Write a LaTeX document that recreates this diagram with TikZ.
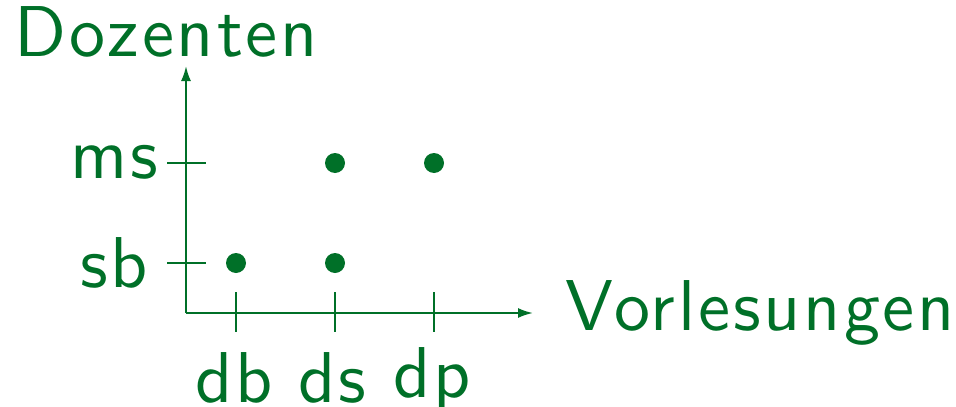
\documentclass[tikz,border=0pt]{standalone}
\usepackage{fontspec}
\usetikzlibrary{arrows.meta}
\newfontfamily\labfont{lmsans10-regular.otf}[LetterSpace=4]
\definecolor{dgreen}{RGB}{0,112,40}
\begin{document}
\begin{tikzpicture}[x=1pt,y=-1pt,
  axis/.style={dgreen,line width=2pt,-{Latex[length=15pt,width=10pt]}},
  tick/.style={dgreen,line width=1.8pt},
  dot/.style={circle,fill=dgreen,inner sep=0pt,minimum size=20pt},
  lab/.style={dgreen,inner sep=0pt,font=\labfont\fontsize{72}{80}\selectfont}]
\useasboundingbox (0,0) rectangle (956,407);
\coordinate (O) at (186,313);
\coordinate (Ytop) at (186,66);
\coordinate (Xend) at (533,313);
\draw[axis] (O) -- (Ytop);
\draw[axis] (O) -- (Xend);
% y ticks
\coordinate (ms1) at (167,163); \coordinate (ms2) at (206,163);
\coordinate (sb1) at (167,263); \coordinate (sb2) at (206,263);
\draw[tick] (ms1) -- (ms2);
\draw[tick] (sb1) -- (sb2);
% x ticks
\coordinate (db1) at (236,292); \coordinate (db2) at (236,332);
\coordinate (ds1) at (335,292); \coordinate (ds2) at (335,332);
\coordinate (dp1) at (434,292); \coordinate (dp2) at (434,332);
\draw[tick] (db1) -- (db2);
\draw[tick] (ds1) -- (ds2);
\draw[tick] (dp1) -- (dp2);
% dots
\node[dot] (p1) at (236,263) {};
\node[dot] (p2) at (335,263) {};
\node[dot] (p3) at (335,163) {};
\node[dot] (p4) at (434,163) {};
% labels
\node[lab,anchor=base west] (ylab) at (14,56) {Dozenten};
\node[lab,anchor=base west] (xlab) at (565,330) {Vorlesungen};
\node[lab,anchor=base west] (lms) at (70,178) {ms};
\node[lab,anchor=base west] (lsb) at (80,287) {sb};
\node[lab,anchor=base west] (ldb) at (195,402) {db};
\node[lab,anchor=base west] (lds) at (298,402) {ds};
\node[lab,anchor=base west] (ldp) at (393,397) {dp};
\end{tikzpicture}
\end{document}
